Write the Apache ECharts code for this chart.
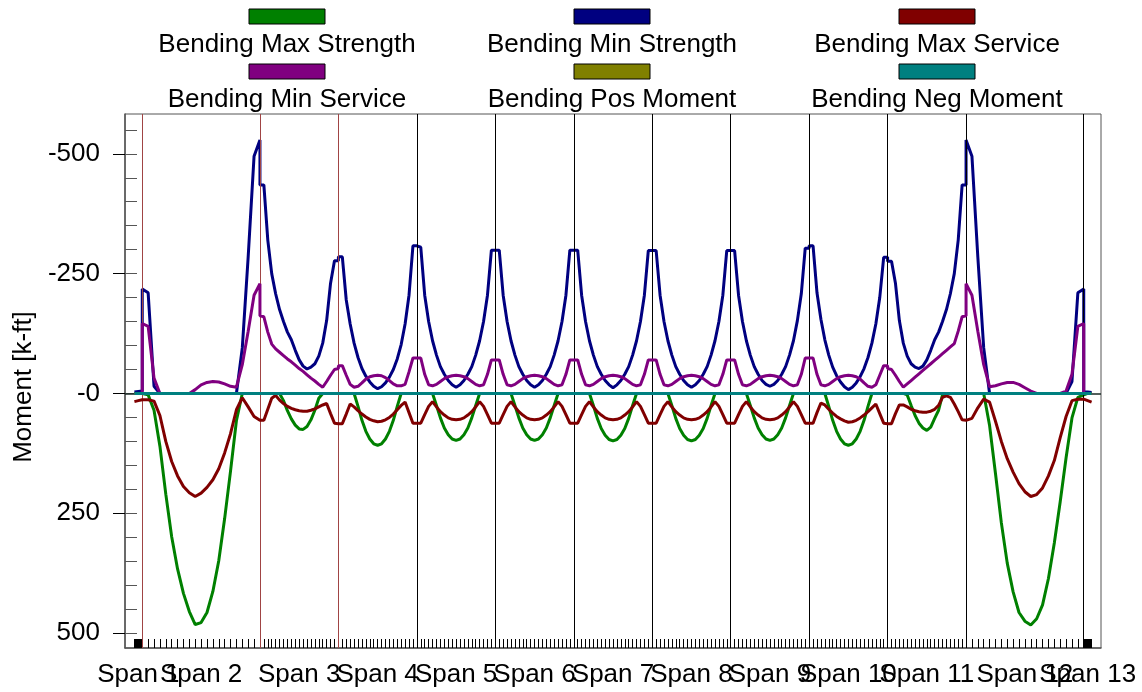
<!DOCTYPE html>
<html>
<head>
<meta charset="utf-8">
<script src="https://cdn.jsdelivr.net/npm/echarts@6/dist/echarts.min.js"></script>
<style>
html, body { margin: 0; padding: 0; background: #fff; }
#chart { width: 1142px; height: 692px; }
</style>
</head>
<body>
<div id="chart"></div>
<script>
// Girder layout: 13 spans (10 ft overhangs at both ends), lengths in ft
const spanNames = ['Span 1', 'Span 2', 'Span 3', 'Span 4', 'Span 5', 'Span 6', 'Span 7',
                   'Span 8', 'Span 9', 'Span 10', 'Span 11', 'Span 12', 'Span 13'];
const spanLengths = [10, 150, 100, 100, 100, 100, 100, 100, 100, 100, 100, 150, 10];

// Moment envelopes [k-ft], one array per span, evenly spaced output points along the span
const maxStrength = [
  [0, 0, 0],
  [0, 3, 35, 110, 210, 299, 366, 417, 455, 482, 478, 457, 413, 349, 261, 162, 57, 0, 0, 0, 0],
  [0, 0, 0, 0, 0, 0, 15, 36, 53, 66, 74, 75, 69, 55, 35, 10, 0, 0, 0, 0, 0],
  [0, 0, 0, 0, 0, 27, 56, 79, 95, 105, 108, 105, 95, 79, 56, 27, 0, 0, 0, 0, 0],
  [0, 0, 0, 0, 0, 25, 51, 72, 86, 95, 98, 95, 86, 72, 51, 25, 0, 0, 0, 0, 0],
  [0, 0, 0, 0, 0, 25, 51, 72, 86, 95, 98, 95, 86, 72, 51, 25, 0, 0, 0, 0, 0],
  [0, 0, 0, 0, 0, 25, 52, 73, 87, 96, 99, 96, 87, 73, 52, 25, 0, 0, 0, 0, 0],
  [0, 0, 0, 0, 0, 25, 52, 73, 87, 96, 99, 96, 87, 73, 52, 25, 0, 0, 0, 0, 0],
  [0, 0, 0, 0, 0, 25, 51, 72, 86, 95, 98, 95, 86, 72, 51, 25, 0, 0, 0, 0, 0],
  [0, 0, 0, 0, 0, 27, 56, 79, 95, 105, 108, 105, 95, 79, 56, 27, 0, 0, 0, 0, 0],
  [0, 0, 0, 0, 0, 3, 25, 46, 62, 72, 77, 70, 52, 35, 3, 0, 0, 0, 0, 0, 0],
  [0, 0, 0, 0, 67, 167, 270, 354, 414, 457, 475, 483, 470, 441, 386, 312, 226, 134, 51, 8, 3],
  [0, 0, 0]
];

const minStrength = [
  [-3, -4, -5],
  [-218, -210, -15, 0, 0, 0, 0, 0, 0, 0, 0, 0, 0, 0, 0, 0, 0, -95, -285, -495, -529],
  [-435, -435, -320, -250, -208, -175, -150, -128, -112, -90, -70, -57, -51, -55, -62, -78, -105, -152, -230, -277, -277],
  [-285, -285, -195, -145, -105, -75, -52, -36, -24, -15, -10, -14, -22, -34, -50, -72, -102, -145, -205, -308, -308],
  [-305, -305, -205, -150, -110, -80, -56, -40, -27, -18, -13, -18, -27, -40, -56, -80, -110, -150, -205, -299, -299],
  [-299, -299, -205, -150, -110, -80, -56, -40, -27, -18, -13, -18, -27, -40, -56, -80, -110, -150, -205, -299, -299],
  [-299, -299, -205, -150, -110, -80, -56, -40, -27, -18, -12, -18, -27, -40, -56, -80, -110, -150, -205, -298, -298],
  [-298, -298, -205, -150, -110, -80, -56, -40, -27, -18, -13, -18, -27, -40, -56, -80, -110, -150, -205, -298, -298],
  [-298, -298, -205, -150, -110, -80, -56, -40, -27, -19, -15, -19, -27, -40, -56, -80, -110, -152, -208, -303, -303],
  [-308, -308, -210, -155, -112, -80, -55, -37, -24, -14, -8, -13, -22, -35, -52, -75, -105, -145, -200, -284, -284],
  [-276, -276, -230, -152, -105, -78, -62, -55, -52, -57, -70, -90, -112, -128, -150, -175, -208, -250, -320, -435, -435],
  [-529, -495, -285, -95, 0, 0, 0, 0, 0, 0, 0, 0, 0, 0, 0, 0, 0, 0, -25, -210, -218],
  [-3, -3, -2]
];

const maxService = [
  [17, 15, 13],
  [13, 13, 16, 46, 100, 142, 172, 194, 207, 215, 208, 196, 180, 157, 124, 84, 34, 9, 28, 48, 56],
  [56, 56, 33, 10, 4, 14, 21, 27, 31, 34, 36, 37, 37, 35, 32, 28, 24, 21, 42, 62, 63],
  [63, 63, 43, 22, 28, 36, 43, 49, 54, 57, 59, 58, 55, 50, 43, 34, 25, 18, 40, 62, 62],
  [62, 62, 44, 27, 17, 28, 38, 45, 51, 54, 55, 54, 51, 45, 38, 28, 17, 27, 44, 62, 62],
  [62, 62, 44, 27, 17, 28, 38, 45, 51, 54, 55, 54, 51, 45, 38, 28, 17, 27, 44, 62, 62],
  [62, 62, 44, 27, 17, 28, 38, 45, 51, 54, 55, 54, 51, 45, 38, 28, 17, 27, 44, 62, 62],
  [62, 62, 44, 27, 17, 28, 38, 45, 51, 54, 55, 54, 51, 45, 38, 28, 17, 27, 44, 62, 62],
  [62, 62, 44, 27, 17, 28, 38, 45, 51, 54, 55, 54, 51, 45, 38, 28, 17, 27, 44, 62, 62],
  [62, 62, 40, 20, 24, 33, 41, 48, 53, 57, 60, 59, 56, 51, 45, 38, 30, 22, 42, 62, 63],
  [63, 63, 42, 24, 24, 28, 33, 36, 38, 39, 39, 37, 33, 25, 8, 5, 8, 22, 38, 55, 56],
  [56, 52, 30, 12, 18, 58, 100, 136, 164, 188, 205, 215, 211, 197, 172, 140, 92, 48, 15, 12, 12],
  [12, 15, 18]
];

const minService = [
  [0, 0, 0],
  [-146, -140, -32, 0, 0, 0, 0, 0, 0, -8, -18, -23, -25, -24, -20, -15, -13, -60, -130, -205, -229],
  [-162, -160, -128, -103, -93, -86, -79, -72, -66, -59, -52, -46, -39, -32, -26, -19, -13, -25, -38, -50, -52],
  [-58, -58, -38, -19, -13, -15, -22, -30, -35, -37, -38, -37, -33, -27, -20, -16, -16, -19, -45, -74, -74],
  [-74, -74, -40, -18, -16, -19, -25, -31, -35, -37, -38, -37, -35, -31, -25, -19, -16, -18, -40, -70, -70],
  [-70, -70, -40, -18, -16, -19, -25, -31, -35, -37, -38, -37, -35, -31, -25, -19, -16, -18, -40, -70, -70],
  [-70, -70, -40, -18, -16, -19, -25, -31, -35, -37, -38, -37, -35, -31, -25, -19, -16, -18, -40, -70, -70],
  [-70, -70, -40, -18, -16, -19, -25, -31, -35, -37, -38, -37, -35, -31, -25, -19, -16, -18, -40, -70, -70],
  [-70, -70, -40, -18, -16, -19, -25, -31, -35, -37, -38, -37, -35, -31, -25, -19, -16, -18, -40, -74, -74],
  [-74, -74, -40, -18, -16, -19, -25, -31, -35, -37, -38, -37, -35, -30, -22, -15, -13, -18, -38, -58, -58],
  [-52, -50, -38, -25, -13, -20, -27, -34, -41, -48, -55, -62, -69, -76, -83, -90, -97, -104, -130, -160, -162],
  [-229, -205, -130, -60, -14, -16, -20, -23, -23, -19, -12, -5, 0, 0, 0, 0, 0, -5, -40, -140, -146],
  [0, 0, 0]
];

const posMoment = [[0, 0], [0, 0], [0, 0], [0, 0], [0, 0], [0, 0], [0, 0], [0, 0], [0, 0], [0, 0], [0, 0], [0, 0], [0, 0]];
const negMoment = [[0, 0], [0, 0], [0, 0], [0, 0], [0, 0], [0, 0], [0, 0], [0, 0], [0, 0], [0, 0], [0, 0], [0, 0], [0, 0]];

// Axis ticks
const yTickValues = [-500, -250, 0, 250, 500];
const yMinorValues = [-550, -500, -450, -400, -350, -300, -250, -200, -150, -100, -50, 0,
                      50, 100, 150, 200, 250, 300, 350, 400, 450, 500];
const ticksPerSpan = 20;

// Series names and colours
const seriesNames = ['Bending Max Strength', 'Bending Min Strength', 'Bending Max Service',
                     'Bending Min Service', 'Bending Pos Moment', 'Bending Neg Moment'];
const seriesValues = [maxStrength, minStrength, maxService, minService, posMoment, negMoment];
const seriesColors = ['#008000', '#000080', '#800000', '#800080', '#808000', '#008080'];
const supportColors = ['#a04444', '#a04444', '#a04444', '#000', '#000', '#000',
                       '#000', '#000', '#000', '#000', '#000', '#000'];

const FONT = '"Liberation Sans", Arial, Helvetica, sans-serif';

// Span start stations and midpoints
const spanStarts = [];
const spanMids = [];
let acc = 0;
spanLengths.forEach(L => { spanStarts.push(acc); spanMids.push(acc + L / 2); acc += L; });
const supports = spanStarts.slice(1); // interior supports A..L

// Span labels sit on two overlaid axes (odd / even spans) so neighbours never suppress each other
const oddMids = spanMids.filter((m, i) => i % 2 === 0);
const evenMids = spanMids.filter((m, i) => i % 2 === 1);
function spanLabel(v) {
  const i = spanMids.findIndex(m => Math.abs(m - v) < 1e-6);
  return i >= 0 ? spanNames[i] : '';
}

// Output points -> [station, moment]
function toPoints(values) {
  const pts = [];
  values.forEach((v, s) => {
    const n = v.length, L = spanLengths[s];
    for (let k = 0; k < n; k++) pts.push([spanStarts[s] + L * k / (n - 1), v[k]]);
  });
  return pts;
}

// Tick stations along the girder
const tickStations = [];
spanLengths.forEach((L, s) => {
  for (let k = (s === 0 ? 0 : 1); k <= ticksPerSpan; k++) tickStations.push(spanStarts[s] + L * k / ticksPerSpan);
});

const chart = echarts.init(document.getElementById('chart'), null, { renderer: 'canvas' });

const lineSeries = seriesNames.map((name, i) => ({
  name: name,
  type: 'line',
  data: toPoints(seriesValues[i]),
  showSymbol: false,
  symbol: 'none',
  color: seriesColors[i],
  lineStyle: { color: seriesColors[i], width: 3 },
  z: 3 + i,
  animation: false
}));

// Support lines drawn underneath the curves
const supportSeries = {
  name: 'supports',
  type: 'line',
  data: [],
  showSymbol: false,
  z: 2,
  animation: false,
  markLine: {
    silent: true,
    symbol: 'none',
    animation: false,
    label: { show: false },
    data: supports.map((x, i) => ({ xAxis: x, lineStyle: { color: supportColors[i], width: 1, type: 'solid' } }))
  }
};

// Zero line on top
lineSeries[5].markLine = {
  silent: true,
  symbol: 'none',
  animation: false,
  label: { show: false },
  data: [{ yAxis: 0, lineStyle: { color: '#1a2a26', width: 1.5, type: 'solid' } }]
};

// Legend: coloured swatch with its name centred below
const legendCenters = [287, 612, 937];
const legendGraphics = [];
seriesNames.forEach((name, i) => {
  const cx = legendCenters[i % 3];
  const row = Math.floor(i / 3);
  legendGraphics.push({
    type: 'rect',
    shape: { x: cx - 38, y: 9 + row * 55, width: 76, height: 15 },
    style: { fill: seriesColors[i], stroke: '#000', lineWidth: 1 }
  });
  legendGraphics.push({
    type: 'text',
    x: cx, y: 45 + row * 55,
    style: { text: name, fill: '#000', font: '26px ' + FONT, align: 'center', verticalAlign: 'middle' }
  });
});

const labelStyle = {
  show: true,
  showMinLabel: true,
  showMaxLabel: true,
  hideOverlap: false,
  margin: 14,
  color: '#000',
  fontSize: 26,
  fontFamily: FONT,
  formatter: spanLabel
};

chart.setOption({
  animation: false,
  backgroundColor: '#fff',
  textStyle: { fontFamily: FONT },
  grid: { left: 125, right: 41, top: 114, bottom: 44, show: true, borderColor: '#555', borderWidth: 1, backgroundColor: 'transparent' },
  graphic: legendGraphics,
  xAxis: [
    {
      type: 'value',
      position: 'bottom',
      min: -12,
      max: 1232,
      axisLine: { show: true, onZero: false, lineStyle: { color: '#555', width: 1.5 } },
      axisTick: { show: true, inside: true, length: 9, customValues: tickStations, lineStyle: { color: '#000', width: 1 } },
      axisLabel: Object.assign({ customValues: oddMids }, labelStyle),
      splitLine: { show: false }
    },
    {
      type: 'value',
      position: 'bottom',
      offset: 0,
      min: -12,
      max: 1232,
      axisLine: { show: false, onZero: false },
      axisTick: { show: false },
      axisLabel: Object.assign({ customValues: evenMids }, labelStyle),
      splitLine: { show: false }
    }
  ],
  yAxis: [
    {
      type: 'value',
      position: 'left',
      inverse: true,
      min: -583,
      max: 531,
      name: 'Moment [k-ft]',
      nameLocation: 'middle',
      nameRotate: 90,
      nameGap: 88,
      nameTextStyle: { color: '#000', fontSize: 26, fontFamily: FONT, padding: [0, 12, 0, 0] },
      axisLine: { show: true, onZero: false, lineStyle: { color: '#555', width: 1.5 } },
      axisTick: { show: true, inside: false, length: 12, customValues: yTickValues, lineStyle: { color: '#000', width: 1 } },
      axisLabel: {
        show: true,
        customValues: yTickValues,
        margin: 25,
        color: '#000',
        fontSize: 26,
        fontFamily: FONT,
        formatter: function (v) { return v === 0 ? '-0' : String(v); }
      },
      splitLine: { show: false }
    },
    {
      type: 'value',
      position: 'left',
      offset: 0,
      inverse: true,
      min: -583,
      max: 531,
      axisLine: { show: false, onZero: false },
      axisTick: { show: true, inside: true, length: 12, customValues: yMinorValues, lineStyle: { color: '#555', width: 1 } },
      axisLabel: { show: false },
      splitLine: { show: false }
    }
  ],
  series: [supportSeries].concat(lineSeries)
});
</script>
</body>
</html>
